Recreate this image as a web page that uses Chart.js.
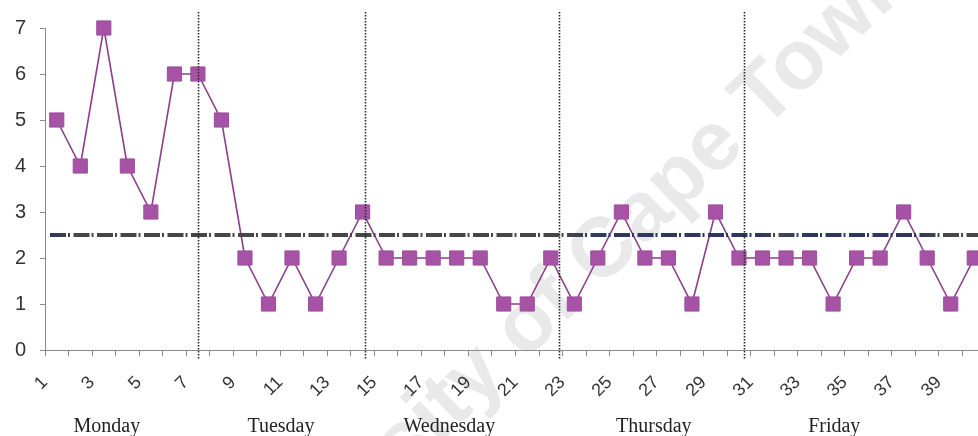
<!DOCTYPE html>
<html>
<head>
<meta charset="utf-8">
<script src="https://cdn.jsdelivr.net/npm/chart.js@4/dist/chart.umd.min.js"></script>
<style>
  html, body { margin: 0; padding: 0; overflow: hidden; background: #fff; }
  #wrap { position: relative; width: 990px; height: 436px; }
</style>
</head>
<body>
<div id="wrap"><canvas id="c" width="990" height="436"></canvas></div>
<script>
// Session numbers along the week
const sessions = ['1','2','3','4','5','6','7','8','9','10',
                  '11','12','13','14','15','16','17','18','19','20',
                  '21','22','23','24','25','26','27','28','29','30',
                  '31','32','33','34','35','36','37','38','39','40'];

// Count recorded in each session
const counts = [5, 4, 7, 4, 3, 6, 6, 5, 2, 1,
                2, 1, 2, 3, 2, 2, 2, 2, 2, 1,
                1, 2, 1, 2, 3, 2, 2, 1, 3, 2,
                2, 2, 2, 1, 2, 2, 3, 2, 1, 2];

// Reference level drawn across the whole week
const threshold = 2.5;

// Days of the week shown under the axis
const dayNames = ['Monday', 'Tuesday', 'Wednesday', 'Thursday', 'Friday'];

// Where the day separators and day captions sit, in session-index units
const dayDividerAt = [6.02, 13.12, 21.37, 29.21];
const dayCaptionAt = [2.13, 9.53, 16.69, 25.38, 33.05];

const yTicks = [0, 1, 2, 3, 4, 5, 6, 7];

const decorations = {
  id: 'decorations',
  beforeDraw(chart) {
    const { ctx, width, height } = chart;
    ctx.save();
    ctx.fillStyle = '#fff';
    ctx.fillRect(0, 0, width, height);
    // faint diagonal watermark
    ctx.font = 'bold 84px "Liberation Sans", Arial, sans-serif';
    ctx.fillStyle = '#e9e9e9';
    const lead = ctx.measureText('University of Cape ').width + ctx.measureText('T').width / 2;
    ctx.translate(782, 113);
    ctx.rotate(-44 * Math.PI / 180);
    ctx.textBaseline = 'alphabetic';
    ctx.textAlign = 'left';
    ctx.fillText('University of Cape Town', -lead, 0);
    ctx.restore();
  },
  afterDatasetsDraw(chart) {
    const { ctx, chartArea } = chart;
    const xs = chart.scales.x, ys = chart.scales.y;
    ctx.save();

    // threshold line
    const ty = ys.getPixelForValue(threshold);
    const grad = ctx.createLinearGradient(chartArea.left, 0, chartArea.right, 0);
    grad.addColorStop(0, '#2c3358');
    grad.addColorStop(0.03, '#464646');
    grad.addColorStop(0.55, '#464646');
    grad.addColorStop(0.6, '#2e3763');
    grad.addColorStop(0.76, '#2e3763');
    grad.addColorStop(0.78, '#484848');
    grad.addColorStop(0.81, '#2e3763');
    grad.addColorStop(0.93, '#2e3763');
    grad.addColorStop(0.95, '#484848');
    grad.addColorStop(1, '#484848');
    ctx.strokeStyle = grad;
    ctx.lineWidth = 4;
    ctx.setLineDash([16, 2, 2, 3.5]);
    ctx.beginPath();
    ctx.moveTo(chartArea.left + 5, ty);
    ctx.lineTo(chartArea.right, ty);
    ctx.stroke();

    // dotted separators between days
    ctx.strokeStyle = '#2a2a2a';
    ctx.lineWidth = 1.6;
    ctx.setLineDash([1.6, 1.4]);
    const top = ys.getPixelForValue(7) - 16;
    const bottom = chartArea.bottom + 9;
    dayDividerAt.forEach(v => {
      const x = Math.round(xs.getPixelForValue(v)) + 0.5;
      ctx.beginPath();
      ctx.moveTo(x, top);
      ctx.lineTo(x, bottom);
      ctx.stroke();
    });

    ctx.restore();
  },
  afterDraw(chart) {
    const { ctx } = chart;
    const xs = chart.scales.x;
    ctx.save();
    ctx.font = '20px "Liberation Serif", "Times New Roman", serif';
    ctx.fillStyle = '#222';
    ctx.textAlign = 'center';
    ctx.textBaseline = 'alphabetic';
    dayNames.forEach((d, i) => {
      ctx.fillText(d, xs.getPixelForValue(dayCaptionAt[i]), 432);
    });
    ctx.restore();
  }
};

new Chart(document.getElementById('c'), {
  type: 'line',
  data: {
    labels: sessions,
    datasets: [{
      data: counts,
      borderColor: '#8a3f8a',
      borderWidth: 1.6,
      backgroundColor: '#a653a6',
      pointBackgroundColor: '#a653a6',
      pointBorderColor: '#9c4c9c',
      pointBorderWidth: 1,
      pointStyle: 'rect',
      pointRadius: 10,
      pointHoverRadius: 10,
      tension: 0,
      clip: false
    }]
  },
  options: {
    responsive: false,
    animation: false,
    events: [],
    layout: { autoPadding: false, padding: { left: 0, top: 28, right: 4, bottom: 0 } },
    plugins: { legend: { display: false }, tooltip: { enabled: false } },
    scales: {
      x: {
        type: 'category',
        offset: true,
        grid: {
          offset: true,
          drawOnChartArea: false,
          drawTicks: true,
          tickLength: 6,
          color: '#8a8a8a',
          lineWidth: 1
        },
        border: { color: '#8a8a8a', width: 1 },
        ticks: {
          autoSkip: false,
          minRotation: 45,
          maxRotation: 45,
          padding: 16,
          labelOffset: -12,
          color: '#333',
          font: { family: '"Liberation Sans", Arial, sans-serif', size: 18 },
          callback: (v, i) => (i % 2 === 0 ? sessions[i] : '')
        },
        afterFit: s => {
          s.height = 86;
          s.paddingLeft = 0;
          s.paddingRight = 0;
        }
      },
      y: {
        min: 0,
        max: 7,
        afterBuildTicks: s => { s.ticks = yTicks.map(v => ({ value: v })); },
        grid: {
          drawOnChartArea: false,
          drawTicks: true,
          tickLength: 5,
          color: '#8a8a8a'
        },
        border: { color: '#8a8a8a', width: 1 },
        ticks: {
          padding: 14,
          color: '#333',
          font: { family: '"Liberation Sans", Arial, sans-serif', size: 20 }
        },
        afterFit: s => {
          s.width = 45;
          s.paddingTop = 0;
          s.paddingBottom = 0;
        }
      }
    }
  },
  plugins: [decorations]
});
</script>
</body>
</html>
